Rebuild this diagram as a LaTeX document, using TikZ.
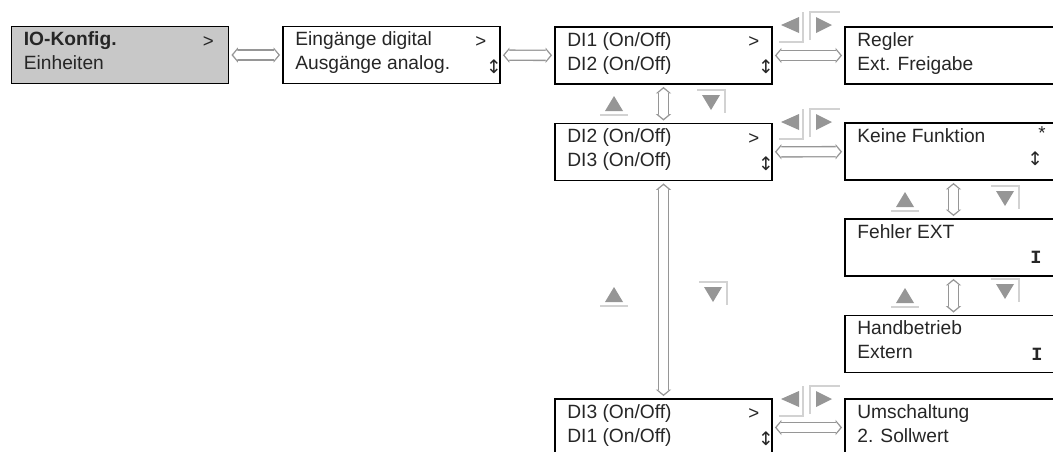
\documentclass[tikz,border=0pt]{standalone}
\usepackage{fontspec}
\setmainfont{Liberation Sans}
\newfontfamily\symfont{DejaVu Sans}
\newfontfamily\serifsym{Liberation Mono}
\usetikzlibrary{arrows.meta,calc}

\definecolor{menugray}{RGB}{200,200,200}
\definecolor{keygray}{RGB}{150,150,150}
\definecolor{shadegray}{RGB}{210,210,210}
\definecolor{linkgray}{RGB}{150,150,150}

\tikzstyle{menu}=[draw=black, line width=1.4pt, fill=white, minimum width=162.75pt, minimum height=42.75pt, inner sep=0pt]
\tikzstyle{txt}=[anchor=base west, inner sep=0pt, text=black!85, font=\fontsize{14.4}{16}\selectfont]
\tikzstyle{sym}=[anchor=center, inner sep=0pt, text=black!85, font=\fontsize{14}{16}\selectfont]
% hollow double arrow: gray body first, white core on top
\tikzstyle{link}=[
	preaction={draw=linkgray, line width=8.6pt, {Triangle[length=4.8pt, width=11.4pt, line width=0pt]}-{Triangle[length=4.8pt, width=11.4pt, line width=0pt]}, shorten <=1.5pt, shorten >=1.5pt},
	draw=white, line width=6.6pt, {Triangle[length=3.1pt, width=7.6pt, line width=0pt]}-{Triangle[length=3.1pt, width=7.6pt, line width=0pt]}, shorten <=2.9pt, shorten >=2.9pt]

\begin{document}
\begin{tikzpicture}[x=0.75pt, y=-0.75pt]
	
	\clip (0,0) rectangle (1053,451);
	
	% Menu level 1 and 2
	\node[menu, fill=menugray] (b1) at (120,55) {};
	\node[txt, font=\fontsize{14.4}{16}\selectfont\bfseries] (b1l1) at ($(b1.north west)+(13,20)$) {IO-Konfig.};
	\node[txt] (b1l2) at ($(b1.north west)+(13,44)$) {Einheiten};
	\node[sym] (b1s1) at ($(b1.north east)+(-21,16)$) {>};
	
	\node[menu] (b2) at (391.5,55) {};
	\node[txt] (b2l1) at ($(b2.north west)+(13,20)$) {Eingänge digital};
	\node[txt] (b2l2) at ($(b2.north west)+(13,44)$) {Ausgänge analog.};
	\node[sym] (b2s1) at ($(b2.north east)+(-20,16)$) {>};
	\node[sym] (b2s2) at ($(b2.north east)+(-7,41)$) {\symfont ↕};
	
	% Digital inputs
	\node[menu] (b3) at (663.5,55.5) {};
	\node[txt] (b3l1) at ($(b3.north west)+(13,20)$) {DI1 (On/Off)};
	\node[txt] (b3l2) at ($(b3.north west)+(13,44)$) {DI2 (On/Off)};
	\node[sym] (b3s1) at ($(b3.north east)+(-19,16)$) {>};
	\node[sym] (b3s2) at ($(b3.north east)+(-7,41)$) {\symfont ↕};
	
	\node[menu] (b4) at (663.5,152) {};
	\node[txt] (b4l1) at ($(b4.north west)+(13,20)$) {DI2 (On/Off)};
	\node[txt] (b4l2) at ($(b4.north west)+(13,44)$) {DI3 (On/Off)};
	\node[sym] (b4s1) at ($(b4.north east)+(-19,16)$) {>};
	\node[sym] (b4s2) at ($(b4.north east)+(-7,41)$) {\symfont ↕};
	
	\node[menu] (b5) at (663.5,427.5) {};
	\node[txt] (b5l1) at ($(b5.north west)+(13,20)$) {DI3 (On/Off)};
	\node[txt] (b5l2) at ($(b5.north west)+(13,44)$) {DI1 (On/Off)};
	\node[sym] (b5s1) at ($(b5.north east)+(-19,16)$) {>};
	\node[sym] (b5s2) at ($(b5.north east)+(-7,41)$) {\symfont ↕};
	
	% Functions (right column, cut by the page edge)
	\node[menu] (r1) at (953.5,55.5) {};
	\node[txt] (r1l1) at ($(r1.north west)+(13,20)$) {Regler};
	\node[txt] (r1l2) at ($(r1.north west)+(13,44)$) {Ext. Freigabe};
	
	\node[menu] (r2) at (953.5,151.5) {};
	\node[txt] (r2l1) at ($(r2.north west)+(13,20)$) {Keine Funktion};
	\node[sym] (r2s1) at ($(r2.north west)+(198,11)$) {*};
	\node[sym] (r2s2) at ($(r2.north west)+(191,37)$) {\symfont ↕};
	
	\node[menu] (r3) at (953.5,247.5) {};
	\node[txt] (r3l1) at ($(r3.north west)+(13,20)$) {Fehler EXT};
	\node[sym] (r3s1) at ($(r3.north west)+(192,39)$) {\serifsym\bfseries I};
	
	\node[menu] (r4) at (953.5,344) {};
	\node[txt] (r4l1) at ($(r4.north west)+(13,20)$) {Handbetrieb};
	\node[txt] (r4l2) at ($(r4.north west)+(13,44)$) {Extern};
	\node[sym] (r4s1) at ($(r4.north west)+(193,40)$) {\serifsym\bfseries I};
	
	\node[menu] (r5) at (953.5,427.5) {};
	\node[txt] (r5l1) at ($(r5.north west)+(13,20)$) {Umschaltung};
	\node[txt] (r5l2) at ($(r5.north west)+(13,44)$) {2. Sollwert};
	
	% Links between the menus
	\foreach \p/\q in {b1/b2, b2/b3, b3/r1, b4/r2, b5/r5, b3/b4, b4/b5, r2/r3, r3/r4} {
		\draw[link] (\p) -- (\q);
	}
	
	% Up keys
	\foreach \x/\y in {614/104, 614/295, 905/200, 905/296} {
		\fill[keygray] (\x-9,\y+7) -- (\x+9,\y+7) -- (\x,\y-8) -- cycle;
		\draw[shadegray, line width=1pt] (\x-14,\y+11) -- (\x+14,\y+11);
	}
	
	% Down keys
	\foreach \x/\y in {711/102, 713/294, 1005/198, 1005/291} {
		\fill[keygray] (\x-9,\y-7) -- (\x+9,\y-7) -- (\x,\y+8) -- cycle;
		\draw[shadegray, line width=1pt] (\x-14,\y-12) -- (\x+14,\y-12) -- (\x+14,\y+11);
	}
	
	% Left/right keys
	\foreach \y in {25, 122, 399} {
		\fill[keygray] (781,\y) -- (799,\y-8) -- (799,\y+8) -- cycle;
		\fill[keygray] (832,\y) -- (816,\y-8) -- (816,\y+8) -- cycle;
		\draw[shadegray, line width=1pt] (779,\y+17) -- (803,\y+17) -- (803,\y-13);
		\draw[shadegray, line width=1pt] (810,\y+15) -- (810,\y-13) -- (840,\y-13);
	}
	
\end{tikzpicture}
\end{document}
